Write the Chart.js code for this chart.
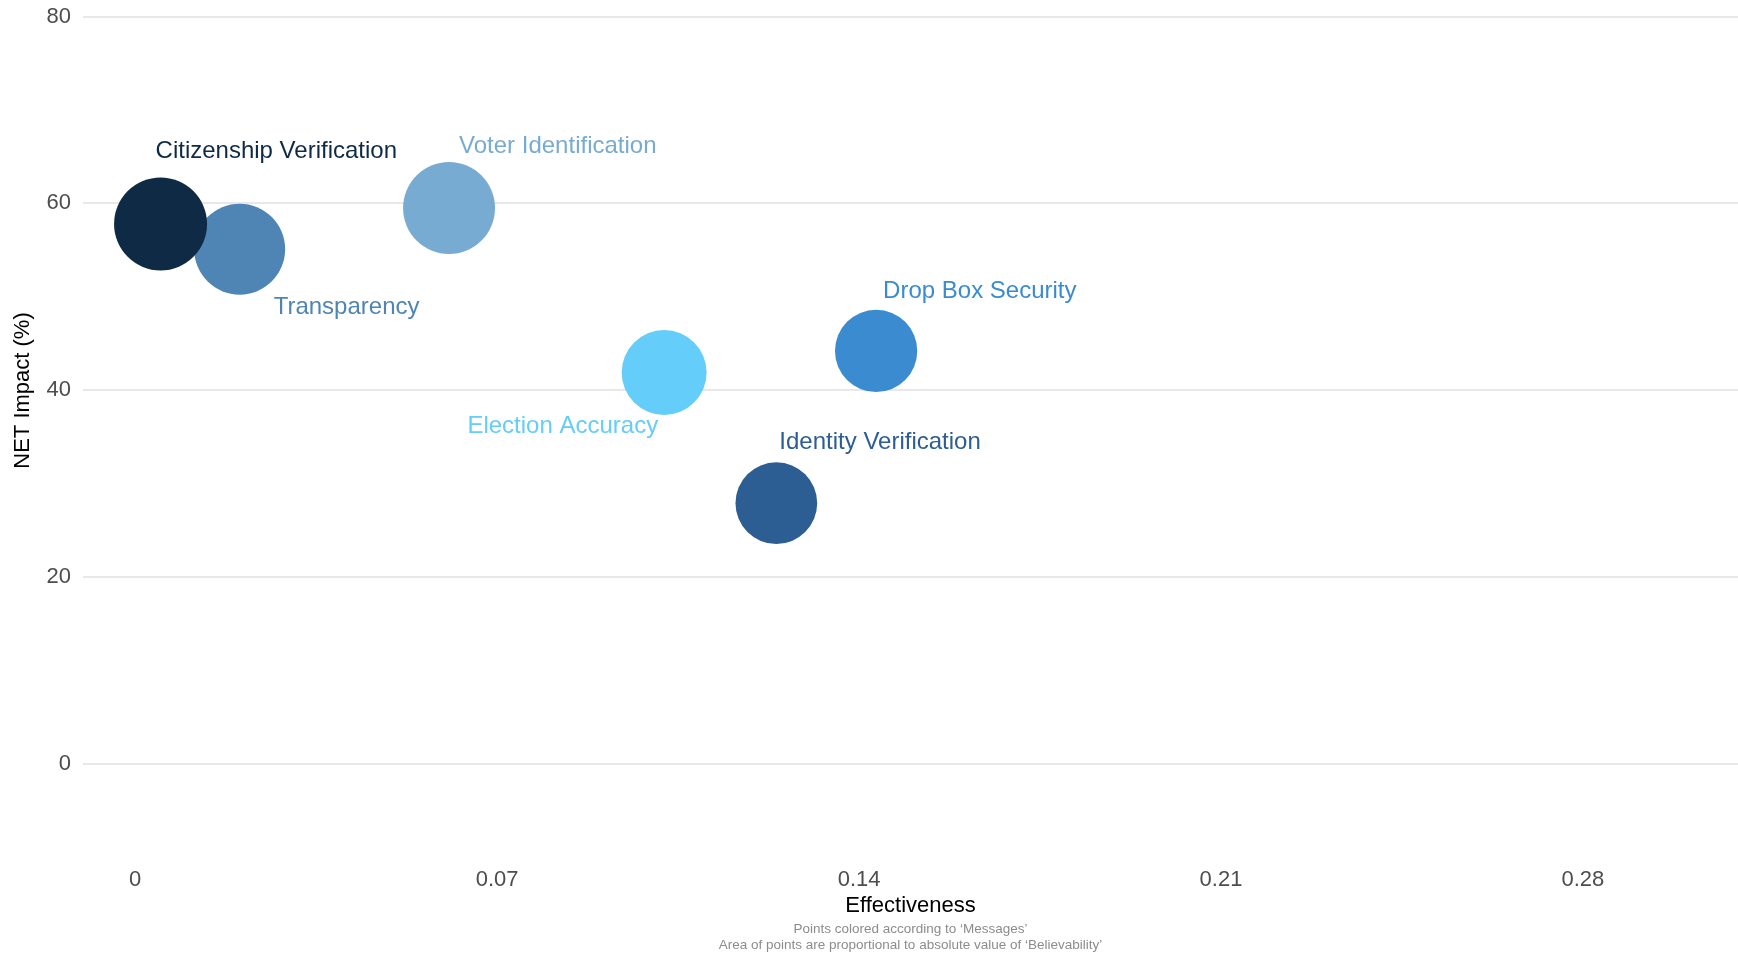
<!DOCTYPE html>
<html>
<head>
<meta charset="utf-8">
<title>NET Impact vs Effectiveness</title>
<script src="https://cdn.jsdelivr.net/npm/chart.js@4/dist/chart.umd.min.js"></script>
<style>
    html, body { margin: 0; padding: 0; background: #ffffff; }
    #wrap { position: relative; width: 1738px; height: 954px; }
</style>
</head>
<body>
<div id="wrap"><canvas id="chart"></canvas></div>
<script>
"use strict";

// values
var messages =      ["Transparency", "Citizenship Verification", "Voter Identification", "Election Accuracy", "Drop Box Security", "Identity Verification"];
var effectiveness = [0.0202, 0.0049, 0.0607, 0.1023, 0.1433, 0.1240];
var netImpact =     [55.1, 57.8, 59.5, 41.9, 44.2, 27.9];
var believability = [50.7, 53.0, 51.8, 44.2, 41.5, 40.9];
var messageColors = ["#4f85b4", "#0e2a45", "#77abd2", "#64cdfa", "#3a8bcf", "#2c5d93"];

var xTicks = [0, 0.07, 0.14, 0.21, 0.28];
var yTicks = [0, 20, 40, 60, 80];

var footnotes = [
    "Points colored according to \u2018Messages\u2019",
    "Area of points are proportional to absolute value of \u2018Believability\u2019"
];

// label placement relative to each point (pixels), like a repel layout
var labelOffsets = [
    { dx: 34,  dy: 65,  align: "left" },
    { dx: -5,  dy: -66, align: "left" },
    { dx: 10,  dy: -55, align: "left" },
    { dx: -6,  dy: 61,  align: "right" },
    { dx: 7,   dy: -53, align: "left" },
    { dx: 3,   dy: -54, align: "left" }
];

var FONT = "'Liberation Sans', Arial, Helvetica, sans-serif";
var maxRadius = 46.5;
var maxBelievability = Math.max.apply(null, believability.map(Math.abs));

function sizeFor(b) {
    return maxRadius * Math.sqrt(Math.abs(b) / maxBelievability);
}

var points = messages.map(function(m, i) {
    return { x: effectiveness[i], y: netImpact[i], r: sizeFor(believability[i]) };
});

// the panel should fill the canvas edge to edge, no label overflow padding
function noPadding(scale) {
    scale.paddingLeft = 0;
    scale.paddingRight = 0;
    scale.paddingTop = 0;
    scale.paddingBottom = 0;
}

var labelPlugin = {
    id: "bubbleLabels",
    afterDatasetsDraw: function(chart) {
        var ctx = chart.ctx;
        var meta = chart.getDatasetMeta(0);
        ctx.save();
        ctx.font = "24px " + FONT;
        ctx.textBaseline = "alphabetic";
        meta.data.forEach(function(el, i) {
            var off = labelOffsets[i];
            ctx.fillStyle = messageColors[i];
            ctx.textAlign = off.align;
            ctx.fillText(messages[i], el.x + off.dx, el.y + off.dy);
        });
        ctx.restore();
    }
};

var footnotePlugin = {
    id: "footnotes",
    afterDraw: function(chart) {
        var ctx = chart.ctx;
        var area = chart.chartArea;
        var cx = (area.left + area.right) / 2;
        ctx.save();
        ctx.font = "13.5px " + FONT;
        ctx.fillStyle = "#8c8c8c";
        ctx.textAlign = "center";
        ctx.textBaseline = "middle";
        ctx.fillText(footnotes[0], cx, 929);
        ctx.fillText(footnotes[1], cx, 945.5);
        ctx.restore();
    }
};

var config = {
    type: "bubble",
    data: {
        datasets: [{
            label: "Messages",
            data: points,
            backgroundColor: messageColors,
            hoverBackgroundColor: messageColors,
            borderWidth: 0,
            hoverBorderWidth: 0,
            hoverRadius: 0
        }]
    },
    options: {
        responsive: true,
        maintainAspectRatio: false,
        animation: false,
        events: [],
        layout: { padding: 0, autoPadding: false },
        plugins: {
            legend: { display: false },
            tooltip: { enabled: false }
        },
        scales: {
            x: {
                type: "linear",
                min: -0.0101,
                max: 0.31,
                afterBuildTicks: function(scale) {
                    scale.ticks = xTicks.map(function(v) { return { value: v }; });
                },
                afterFit: function(scale) {
                    scale.height = 173;
                    noPadding(scale);
                },
                grid: { display: false, drawTicks: false },
                border: { display: false },
                ticks: {
                    padding: 86,
                    maxRotation: 0,
                    autoSkip: false,
                    color: "#4d4d4d",
                    font: { family: FONT, size: 22 },
                    callback: function(v) { return String(+Number(v).toFixed(2)); }
                },
                title: {
                    display: true,
                    text: "Effectiveness",
                    color: "#000000",
                    font: { family: FONT, size: 22 },
                    padding: { top: 0, bottom: 35 }
                }
            },
            y: {
                type: "linear",
                min: -1.852,
                max: 81.78,
                afterBuildTicks: function(scale) {
                    scale.ticks = yTicks.map(function(v) { return { value: v }; });
                },
                afterFit: function(scale) {
                    scale.width = 83;
                    noPadding(scale);
                },
                grid: { color: "#e8e8e8", lineWidth: 2, drawTicks: false },
                border: { display: false },
                ticks: {
                    padding: 12,
                    color: "#4d4d4d",
                    font: { family: FONT, size: 22 }
                },
                title: {
                    display: true,
                    text: "NET Impact (%)",
                    color: "#000000",
                    font: { family: FONT, size: 22 },
                    padding: { top: 10, bottom: 0 }
                }
            }
        }
    },
    plugins: [labelPlugin, footnotePlugin]
};

var chart = new Chart(document.getElementById("chart"), config);
</script>
</body>
</html>
